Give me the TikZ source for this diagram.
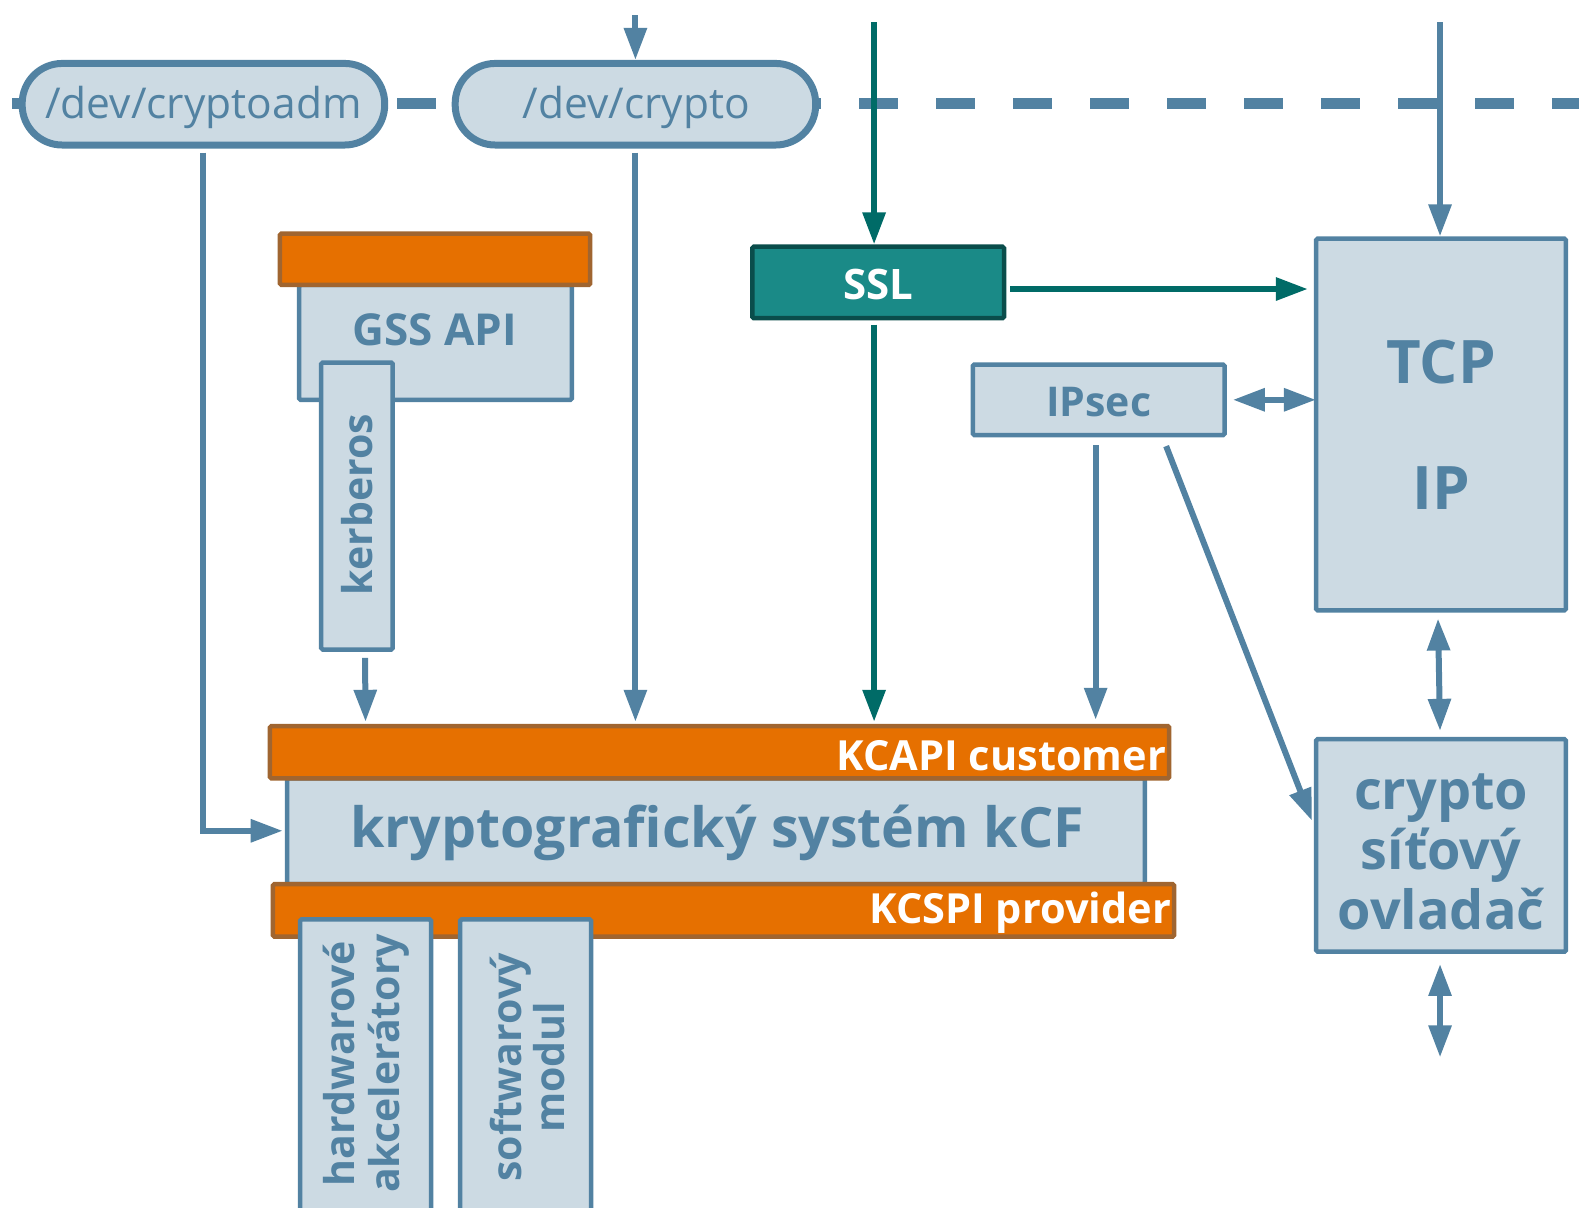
\documentclass[tikz,border=0pt]{standalone}
\usepackage{fontspec}
\setmainfont{Open Sans}
\usetikzlibrary{arrows.meta,fit,calc}
\definecolor{steel}{RGB}{82,130,162}
\definecolor{boxfill}{RGB}{204,218,227}
\definecolor{barfill}{RGB}{230,112,0}
\definecolor{barline}{RGB}{160,101,48}
\definecolor{sslfill}{RGB}{26,138,135}
\definecolor{sslline}{RGB}{10,77,75}
\definecolor{tealline}{RGB}{0,107,103}
\newcommand{\fsz}[2]{\fontsize{#1}{#2}\selectfont}
\begin{document}
\begin{tikzpicture}[x=1.007pt,y=-1.007pt,
  box/.style={draw=steel, line width=4.5pt, fill=boxfill, inner sep=0pt, rounded corners=1.5pt},
  pill/.style={box, line width=7pt, rounded corners=40pt},
  bar/.style={draw=barline, fill=barfill, line width=4.5pt, inner sep=0pt, rounded corners=1.5pt},
  sslbox/.style={draw=sslline, fill=sslfill, line width=4.5pt, inner sep=0pt, rounded corners=1.5pt},
  tip/.style={-{Triangle[length=32pt,width=22pt]}},
  both/.style={{Triangle[length=32pt,width=22pt]}-{Triangle[length=32pt,width=22pt]}},
  conn/.style={draw=steel, line width=6pt},
  tconn/.style={draw=tealline, line width=6pt},
  lbl/.style={text=steel, inner sep=0pt},
  blbl/.style={text=steel, inner sep=0pt, font=\bfseries},
  wlbl/.style={text=white, inner sep=0pt, font=\bfseries}]
\useasboundingbox (0,0) rectangle (1568,1199);

% boundary between user space and kernel
\draw[steel, line width=11pt, dash pattern=on 39pt off 38pt] (12,103) -- (1568,103);

% device nodes
\node[pill, fit={(22,63) (382,144)}] (adm) {};
\node[pill, fit={(452,63) (810,144)}] (dev) {};
\node[lbl, font=\fsz{42.5}{48}] at (202,107) {/dev/cryptoadm};
\node[lbl, font=\fsz{42.5}{48}] at (632,107) {/dev/crypto};

% GSS API with kerberos
\node[box, fit={(297,283) (568,397)}] (gss) {};
\node[bar, fit={(278,232) (586,283)}] (gssbar) {};
\node[blbl, font=\bfseries\fsz{44}{50}] at (432,327) {GSS API};
\node[box, fit={(319,360) (390,645)}] (krb) {};
\node[blbl, font=\bfseries\fsz{41}{47}, rotate=90] at (355,501) {kerberos};

% SSL and IPsec
\node[sslbox, fit={(747,245) (997,316)}] (ssl) {};
\node[wlbl, font=\bfseries\fsz{42}{48}] at (872,283) {SSL};
\node[box, fit={(966,362) (1216,432)}] (ipsec) {};
\node[blbl, font=\bfseries\fsz{41}{47}] at (1091,399) {IPsec};

% network stack
\node[box, fit={(1307,237) (1555,606)}] (tcp) {};
\node[blbl, font=\bfseries\fsz{60}{66}] at (1431,360) {TCP};
\node[blbl, font=\bfseries\fsz{60}{66}] at (1431,485) {IP};
\node[box, fit={(1307,734) (1555,945)}] (drv) {};
\node[blbl, font=\bfseries\fsz{54}{60}, align=center] at (1431,846)
  {crypto\\síťový\\ovladač};

% kernel crypto framework
\node[box, fit={(285,773) (1137,878)}] (kcf) {};
\node[bar, fit={(268,721) (1161,773)}] (kcapi) {};
\node[bar, fit={(271,878) (1166,930)}] (kcspi) {};
\node[blbl, font=\bfseries\fsz{55.5}{62}] at (712,827) {kryptografický systém kCF};
\node[wlbl, font=\bfseries\fsz{41.5}{48}, anchor=east] at (1158,750) {KCAPI customer};
\node[wlbl, font=\bfseries\fsz{41.5}{48}, anchor=east] at (1163,906) {KCSPI provider};

% providers
\node[box, fit={(298,913) (428,1215)}] (hw) {};
\node[box, fit={(457,913) (587,1215)}] (sw) {};
\node[blbl, font=\bfseries\fsz{41}{45}, rotate=90, align=center] at (364,1056) {hardwarové\\akcelerátory};
\node[blbl, font=\bfseries\fsz{41}{43}, rotate=90, align=center] at (524,1060) {softwarový\\modul};

% free ends of connectors
\coordinate (inDev) at (631,15);
\coordinate (inSsl) at (868,22);
\coordinate (inTcp) at (1430,22);
\coordinate (outDrv) at (1430,1050);

% connectors
\draw[conn, tip] (inDev) -- (dev.north);
\draw[conn, tip] ($(adm.south)+(0,4)$) -- (202,825) -- ($(kcf.west |- 0,825)+(-2,0)$);
\draw[conn, tip] ($(dev.south)+(0,4)$) -- ($(kcapi.north -| dev.south)+(0,-2)$);
\draw[conn, tip] ($(krb.south)+(8,6)$) -- ($(kcapi.north -| 363,0)+(0,-2)$);
\draw[conn, tip] ($(ipsec.south)+(-3,8)$) -- ($(kcapi.north -| 1088,0)+(0,-4)$);
\draw[conn, tip] (1158,443) -- ($(drv.west |- 0,815)+(-2,0)$);
\draw[conn, tip] (inTcp) -- (tcp.north -| inTcp);
\draw[conn, both] ($(ipsec.east)+(6,0)$) -- ($(tcp.west |- ipsec.east)+(2,0)$);
\draw[conn, both] ($(tcp.south)+(-3,6)$) -- ($(drv.north)+(-1,-6)$);
\draw[conn, both] ($(drv.south)+(-1,10)$) -- (outDrv);

\draw[tconn, tip] (inSsl) -- (ssl.north -| inSsl);
\draw[tconn, tip] ($(ssl.east |- 0,287)+(4,0)$) -- ($(tcp.west |- 0,287)+(-6,0)$);
\draw[tconn, tip] ($(ssl.south -| inSsl)+(0,4)$) -- ($(kcapi.north -| inSsl)+(0,-2)$);
\end{tikzpicture}
\end{document}
